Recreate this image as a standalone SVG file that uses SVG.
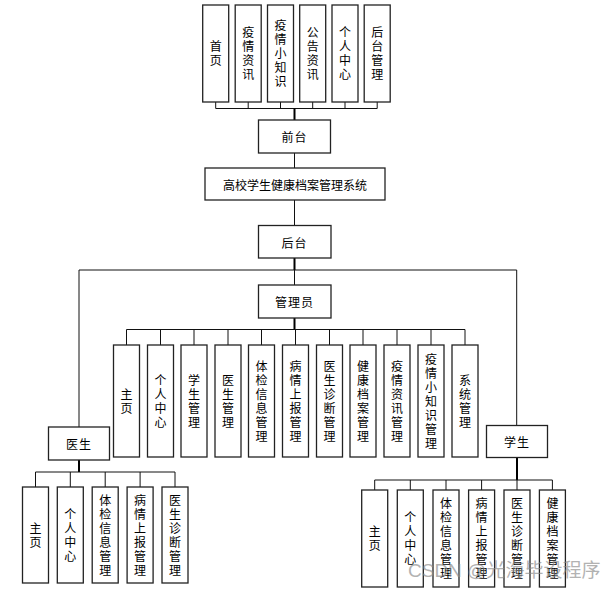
<svg xmlns="http://www.w3.org/2000/svg" width="616" height="591" viewBox="0 0 616 591">
<style>
.b{fill:#fff;stroke:#222;stroke-width:1.3}
.t{font-family:"Noto Sans CJK SC","Liberation Sans",sans-serif;font-size:12px;fill:#000;text-anchor:middle;dominant-baseline:central}
.v{font-family:"Noto Sans CJK SC","Liberation Sans",sans-serif;font-size:12px;fill:#000;text-anchor:middle;writing-mode:vertical-rl;text-orientation:upright;letter-spacing:2px}
.c{fill:none;stroke:#111;stroke-width:1}
.s{fill:none;stroke:#000;stroke-width:2}
.wm{font-family:"Liberation Sans","Noto Sans CJK SC",sans-serif;font-size:19px;fill:#8a8a8a;opacity:0.65}
</style>
<rect width="616" height="591" fill="#fff"/>
<g id="connectors">
<path class="c" d="M215.7,108.5H377.2M215.7,102V108.5M248.2,102V108.5M280.5,102V108.5M312.7,102V108.5M345,102V108.5M377.2,102V108.5"/>
<path class="s" d="M294.5,108.5V120"/>
<path class="c" d="M294.5,153V168M294.5,200V225.5"/>
<path class="s" d="M294.5,258V270"/>
<path class="c" d="M79,427V270H516.7V425.5M294.5,270V285"/>
<path class="s" d="M294.5,318V329.5"/>
<path class="c" d="M126.5,329.5H465M126.5,329.5V345M160.5,329.5V345M194,329.5V345M228,329.5V345M261.5,329.5V345M295.5,329.5V345M329.5,329.5V345M363,329.5V345M397,329.5V345M431,329.5V345M465,329.5V345"/>
<path class="s" d="M79,460V472"/>
<path class="c" d="M35.5,472H175M35.5,472V487M70.3,472V487M105.2,472V487M140.1,472V487M175,472V487"/>
<path class="s" d="M517,457.5V480"/>
<path class="c" d="M374.7,480H552.4M374.7,480V490M410.3,480V490M446,480V490M481.6,480V490M517,480V490M552.4,480V490"/>
</g>
<g id="front-home"><rect class="b" x="202.7" y="5" width="26" height="97"/><text class="v" x="215.7" y="54.5">首页</text></g>
<g id="front-news"><rect class="b" x="235.2" y="5" width="26" height="97"/><text class="v" x="248.2" y="54.5">疫情资讯</text></g>
<g id="front-knowledge"><rect class="b" x="267.5" y="5" width="26" height="97"/><text class="v" x="280.5" y="54.5">疫情小知识</text></g>
<g id="front-notice"><rect class="b" x="299.7" y="5" width="26" height="97"/><text class="v" x="312.7" y="54.5">公告资讯</text></g>
<g id="front-personal"><rect class="b" x="332" y="5" width="26" height="97"/><text class="v" x="345" y="54.5">个人中心</text></g>
<g id="front-admin"><rect class="b" x="364.2" y="5" width="26" height="97"/><text class="v" x="377.2" y="54.5">后台管理</text></g>
<g id="frontend"><rect class="b" x="258.5" y="120" width="72" height="33"/><text class="t" x="294.5" y="136.5" letter-spacing="1">前台</text></g>
<g id="system"><rect class="b" x="205" y="168" width="180" height="32"/><text class="t" x="295" y="184">高校学生健康档案管理系统</text></g>
<g id="backend"><rect class="b" x="258.5" y="225.5" width="72.5" height="32.5"/><text class="t" x="294.5" y="242" letter-spacing="1">后台</text></g>
<g id="admin"><rect class="b" x="258.5" y="285" width="72.5" height="33"/><text class="t" x="294.5" y="301.5" letter-spacing="1">管理员</text></g>
<g id="a1"><rect class="b" x="113.5" y="345" width="26" height="112"/><text class="v" x="126.5" y="402">主页</text></g>
<g id="a2"><rect class="b" x="147.5" y="345" width="26" height="112"/><text class="v" x="160.5" y="402">个人中心</text></g>
<g id="a3"><rect class="b" x="181" y="345" width="26" height="112"/><text class="v" x="194" y="402">学生管理</text></g>
<g id="a4"><rect class="b" x="215" y="345" width="26" height="112"/><text class="v" x="228" y="402">医生管理</text></g>
<g id="a5"><rect class="b" x="248.5" y="345" width="26" height="112"/><text class="v" x="261.5" y="402">体检信息管理</text></g>
<g id="a6"><rect class="b" x="282.5" y="345" width="26" height="112"/><text class="v" x="295.5" y="402">病情上报管理</text></g>
<g id="a7"><rect class="b" x="316.5" y="345" width="26" height="112"/><text class="v" x="329.5" y="402">医生诊断管理</text></g>
<g id="a8"><rect class="b" x="350" y="345" width="26" height="112"/><text class="v" x="363" y="402">健康档案管理</text></g>
<g id="a9"><rect class="b" x="384" y="345" width="26" height="112"/><text class="v" x="397" y="402">疫情资讯管理</text></g>
<g id="a10"><rect class="b" x="418" y="345" width="26" height="112"/><text class="v" x="431" y="402">疫情小知识管理</text></g>
<g id="a11"><rect class="b" x="452" y="345" width="26" height="112"/><text class="v" x="465" y="402">系统管理</text></g>
<g id="doctor"><rect class="b" x="48.5" y="427" width="61" height="33"/><text class="t" x="79" y="443.5" letter-spacing="1">医生</text></g>
<g id="d1"><rect class="b" x="22.5" y="487" width="26" height="96"/><text class="v" x="35.5" y="536">主页</text></g>
<g id="d2"><rect class="b" x="57.3" y="487" width="26" height="96"/><text class="v" x="70.3" y="536">个人中心</text></g>
<g id="d3"><rect class="b" x="92.2" y="487" width="26" height="96"/><text class="v" x="105.2" y="536">体检信息管理</text></g>
<g id="d4"><rect class="b" x="127.1" y="487" width="26" height="96"/><text class="v" x="140.1" y="536">病情上报管理</text></g>
<g id="d5"><rect class="b" x="162" y="487" width="26" height="96"/><text class="v" x="175" y="536">医生诊断管理</text></g>
<g id="student"><rect class="b" x="486.5" y="425.5" width="61" height="32"/><text class="t" x="517" y="441.5" letter-spacing="1">学生</text></g>
<g id="s1"><rect class="b" x="361.7" y="490" width="26" height="97"/><text class="v" x="374.7" y="539.5">主页</text></g>
<g id="s2"><rect class="b" x="397.3" y="490" width="26" height="97"/><text class="v" x="410.3" y="539.5">个人中心</text></g>
<g id="s3"><rect class="b" x="433" y="490" width="26" height="97"/><text class="v" x="446" y="539.5">体检信息管理</text></g>
<g id="s4"><rect class="b" x="468.6" y="490" width="26" height="97"/><text class="v" x="481.6" y="539.5">病情上报管理</text></g>
<g id="s5"><rect class="b" x="504" y="490" width="26" height="97"/><text class="v" x="517" y="539.5">医生诊断管理</text></g>
<g id="s6"><rect class="b" x="539.4" y="490" width="26" height="97"/><text class="v" x="552.4" y="539.5">健康档案管理</text></g>
<text class="wm" x="408" y="577">CSDN @光海毕设程序</text>
</svg>
